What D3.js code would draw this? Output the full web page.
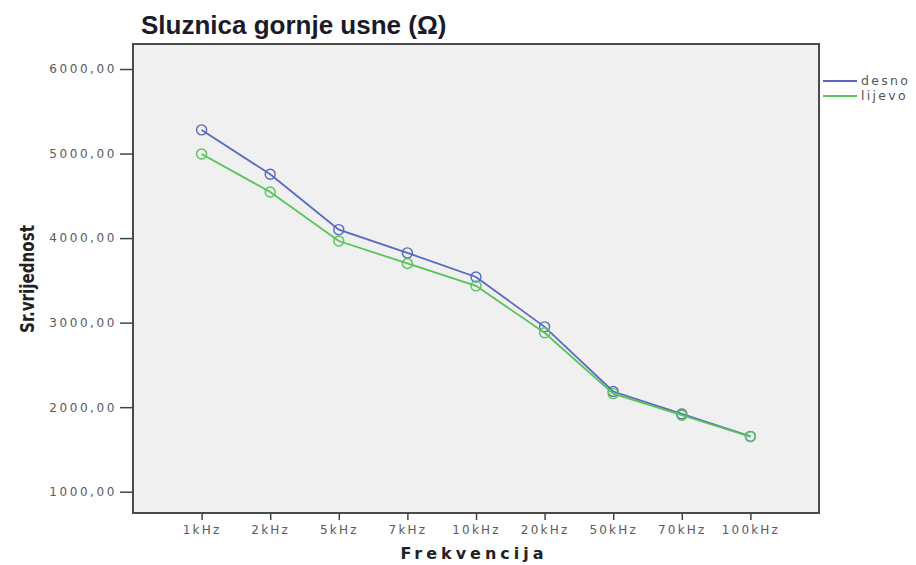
<!DOCTYPE html>
<html><head><meta charset="utf-8">
<script src="https://cdn.jsdelivr.net/npm/d3@7"></script>
<style>body{margin:0;background:#fff}svg{display:block}</style>
</head><body><svg id="c" width="916" height="565"></svg>
<script>
const categories = ["1kHz","2kHz","5kHz","7kHz","10kHz","20kHz","50kHz","70kHz","100kHz"];
const desno  = [5280, 4755, 4100, 3825, 3540, 2950, 2185, 1920, 1655];
const lijevo = [4995, 4545, 3965, 3700, 3435, 2880, 2160, 1905, 1650];
const yTicks = [1000, 2000, 3000, 4000, 5000, 6000];
const seriesNames = ["desno", "lijevo"];
const colors = ["#5868c4", "#58c458"];

const svg = d3.select("#c");
const L = 133, R = 819, T = 44, B = 513;
const x = d3.scalePoint().domain(categories).range([L, R]).padding(1);
const y = d3.scaleLinear().domain([748, 6296]).range([B, T]);

svg.append("rect").attr("x", L).attr("y", T).attr("width", R - L).attr("height", B - T)
  .attr("fill", "#f0f0f0").attr("stroke", "#4a4a4a").attr("stroke-width", 2);

// Y axis
const yAx = svg.append("g").attr("transform", `translate(${L},0)`)
  .call(d3.axisLeft(y).tickValues(yTicks).tickSize(13).tickPadding(3)
    .tickFormat(d => d3.format(".2f")(d).replace(".", ",")));
yAx.select(".domain").remove();
yAx.selectAll("line").attr("stroke", "#444").attr("stroke-width", 1.5);
yAx.selectAll("text").attr("font-family", "DejaVu Sans").attr("font-size", 12)
  .attr("fill", "#5a5a5a").attr("letter-spacing", 2.6);

// X axis
const xAx = svg.append("g").attr("transform", `translate(0,${B})`)
  .call(d3.axisBottom(x).tickSize(7).tickPadding(5));
xAx.select(".domain").remove();
xAx.selectAll("line").attr("stroke", "#444").attr("stroke-width", 1.5);
xAx.selectAll("text").attr("font-family", "DejaVu Sans").attr("font-size", 12)
  .attr("fill", "#5a5a5a").attr("letter-spacing", 2.2);

// Lines
const data = [desno, lijevo];
const line = d3.line().x((d, i) => x(categories[i])).y(d => y(d));
data.forEach((s, k) => {
  svg.append("path").datum(s).attr("d", line).attr("fill", "none")
    .attr("stroke", colors[k]).attr("stroke-width", 1.8);
  svg.append("g").selectAll("circle").data(s).join("circle")
    .attr("cx", (d, i) => x(categories[i])).attr("cy", d => y(d)).attr("r", 5)
    .attr("fill", "none").attr("stroke", colors[k]).attr("stroke-width", 1.4);
});

// Legend
seriesNames.forEach((n, k) => {
  const ly = 81 + k * 15;
  svg.append("line").attr("x1", 823).attr("x2", 857).attr("y1", ly).attr("y2", ly)
    .attr("stroke", colors[k]).attr("stroke-width", 2);
  svg.append("text").attr("x", 861).attr("y", ly + 4).text(n)
    .attr("font-family", "DejaVu Sans").attr("font-size", 12.5).attr("fill", "#555")
    .attr("letter-spacing", 2.3);
});

// Title
svg.append("text").attr("x", 141).attr("y", 34).text("Sluznica gornje usne (Ω)")
  .attr("font-family", "Liberation Sans, Arial, sans-serif").attr("font-weight", "bold")
  .attr("font-size", 26).attr("fill", "#1a1a2a");

// Axis titles
svg.append("text").attr("transform", "translate(34,279) rotate(-90)")
  .attr("text-anchor", "middle").text("Sr.vrijednost")
  .attr("font-family", "Liberation Sans Narrow, DejaVu Sans Condensed, sans-serif")
  .attr("font-stretch", "condensed").attr("font-weight", "bold")
  .attr("font-size", 19).attr("fill", "#222")
  .attr("textLength", 108).attr("lengthAdjust", "spacingAndGlyphs");
svg.append("text").attr("x", 474).attr("y", 559).attr("text-anchor", "middle")
  .text("Frekvencija").attr("font-family", "DejaVu Sans").attr("font-weight", "bold")
  .attr("font-size", 16).attr("letter-spacing", 4).attr("fill", "#222");
</script></body></html>
